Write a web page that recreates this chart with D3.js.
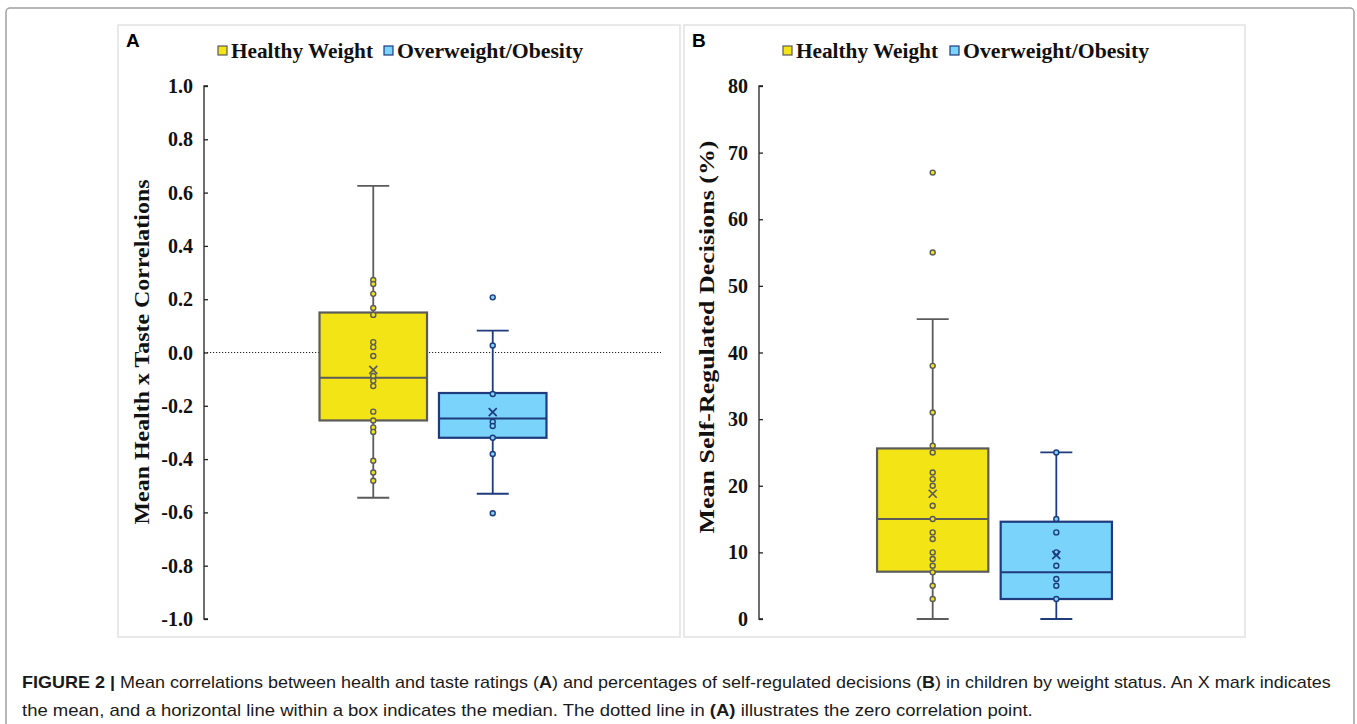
<!DOCTYPE html>
<html>
<head>
<meta charset="utf-8">
<script src="https://cdn.jsdelivr.net/npm/d3@7"></script>
<style>
  body { margin: 0; background: #fff; }
  svg { display: block; }
</style>
</head>
<body>
<div id="chart"></div>
<script>
// groups and colours
const groups = ['Healthy Weight', 'Overweight/Obesity']
const fills = ['#f3e415', '#79d3fb']
const strokes = ['#5b5b5b', '#1f3b7c']

// panel A: mean health x taste correlations
const ticksA = [-1.0, -0.8, -0.6, -0.4, -0.2, 0.0, 0.2, 0.4, 0.6, 0.8, 1.0]
const boxA = [
  { lo: -0.545, q1: -0.255, median: -0.095, q3: 0.15, hi: 0.625, mean: -0.065 },
  { lo: -0.53, q1: -0.32, median: -0.248, q3: -0.152, hi: 0.082, mean: -0.224 }
]
const pointsAHealthy = [0.272, 0.257, 0.22, 0.167, 0.141, 0.039, 0.02, -0.013, -0.088, -0.106,
  -0.126, -0.222, -0.255, -0.281, -0.298, -0.406, -0.45, -0.481]
const pointsAOver = [0.207, 0.026, -0.156, -0.26, -0.276, -0.32, -0.381, -0.603]

// panel B: mean self-regulated decisions (%)
const ticksB = [0, 10, 20, 30, 40, 50, 60, 70, 80]
const boxB = [
  { lo: 0, q1: 7.1, median: 15, q3: 25.6, hi: 45, mean: 18.8 },
  { lo: 0, q1: 3, median: 7, q3: 14.6, hi: 25, mean: 9.6 }
]
const pointsBHealthy = [67, 55, 38, 31, 26, 25, 22, 21, 20, 17, 15, 13, 12, 10, 9, 8, 7, 5, 3]
const pointsBOver = [25, 15, 13, 10, 8, 6, 5, 3]

const width = 1357
const height = 724

const svg = d3.select('#chart')
  .append('svg')
  .attr('width', width)
  .attr('height', height)

// outer figure frame
svg.append('rect')
  .attr('x', 6).attr('y', 8)
  .attr('width', 1348).attr('height', 740)
  .attr('rx', 4)
  .attr('fill', 'none')
  .attr('stroke', '#a0a0a0')
  .attr('stroke-width', 1.5)

const serif = '"Liberation Serif", "Times New Roman", serif'

function fitText(sel, target) {
  const w = sel.node().getComputedTextLength()
  sel.attr('textLength', target).attr('lengthAdjust', 'spacingAndGlyphs')
  return w
}

function drawPanel(cfg) {
  const g = svg.append('g')

  // panel border
  g.append('rect')
    .attr('x', cfg.frame[0]).attr('y', cfg.frame[1])
    .attr('width', cfg.frame[2] - cfg.frame[0])
    .attr('height', cfg.frame[3] - cfg.frame[1])
    .attr('fill', 'none')
    .attr('stroke', '#e2e2e2')
    .attr('stroke-width', 1.5)

  // panel letter
  g.append('text')
    .attr('x', cfg.frame[0] + 8)
    .attr('y', cfg.frame[1] + 22)
    .attr('font-family', 'Liberation Sans, Arial, sans-serif')
    .attr('font-weight', 'bold')
    .attr('font-size', 19)
    .text(cfg.letter)

  const y = d3.scaleLinear().domain(cfg.domain).range([619, 86])
  const x = d3.scaleBand()
    .domain(groups)
    .range([cfg.axisX, cfg.plotRight])
    .paddingInner(0.1)
    .paddingOuter(cfg.outer)

  // y axis (ticks pointing inward)
  const axis = d3.axisRight(y)
    .tickValues(cfg.ticks)
    .tickSize(4)
    .tickFormat('')
  const ax = g.append('g')
    .attr('transform', `translate(${cfg.axisX},0)`)
    .call(axis)
  ax.select('.domain').attr('stroke', '#222').attr('stroke-width', 1.3)
    .attr('d', `M4,${y(cfg.domain[0])}H0V${y(cfg.domain[1])}H4`)
  ax.selectAll('.tick line').attr('stroke', '#222').attr('stroke-width', 1.3)

  g.selectAll('.ylab')
    .data(cfg.ticks)
    .join('text')
    .attr('class', 'ylab')
    .attr('x', cfg.axisX - 11)
    .attr('y', d => y(d))
    .attr('dy', '0.35em')
    .attr('text-anchor', 'end')
    .attr('font-family', serif)
    .attr('font-weight', 'bold')
    .attr('font-size', 20)
    .attr('fill', '#111')
    .text(cfg.fmt)

  // y axis title
  const title = g.append('text')
    .attr('transform', `translate(${cfg.titleX},${cfg.titleY}) rotate(-90)`)
    .attr('text-anchor', 'middle')
    .attr('dy', '0.35em')
    .attr('font-family', serif)
    .attr('font-weight', 'bold')
    .attr('font-size', 22)
    .attr('fill', '#111')
    .text(cfg.title)
  fitText(title, cfg.titleLen)

  // legend
  const leg = g.append('g')
  cfg.legend.forEach((l, i) => {
    leg.append('rect')
      .attr('x', l.sq).attr('y', 46)
      .attr('width', 9).attr('height', 9)
      .attr('fill', fills[i])
      .attr('stroke', strokes[i])
      .attr('stroke-width', 1.2)
    const t = leg.append('text')
      .attr('x', l.sq + 13).attr('y', 58)
      .attr('font-family', serif)
      .attr('font-weight', 'bold')
      .attr('font-size', 21)
      .attr('fill', '#111')
      .text(groups[i])
    fitText(t, l.len)
  })

  // zero reference line
  if (cfg.zeroLine) {
    g.append('line')
      .attr('x1', cfg.axisX).attr('x2', cfg.plotRight - 1)
      .attr('y1', y(0)).attr('y2', y(0))
      .attr('stroke', '#222')
      .attr('stroke-width', 1)
      .attr('stroke-dasharray', '1.2,1.8')
  }

  // boxes
  cfg.boxes.forEach((b, i) => {
    const grp = groups[i]
    const x0 = x(grp)
    const bw = x.bandwidth()
    const cx = x0 + bw / 2
    const capW = 16
    const bg = g.append('g')
      .attr('stroke', strokes[i])
      .attr('stroke-width', 1.8)

    bg.append('line')
      .attr('x1', cx).attr('x2', cx)
      .attr('y1', y(b.hi)).attr('y2', y(b.q3))
    bg.append('line')
      .attr('x1', cx).attr('x2', cx)
      .attr('y1', y(b.q1)).attr('y2', y(b.lo))
    bg.selectAll('.cap')
      .data([b.hi, b.lo])
      .join('line')
      .attr('x1', cx - capW).attr('x2', cx + capW)
      .attr('y1', d => y(d)).attr('y2', d => y(d))

    bg.append('rect')
      .attr('x', x0).attr('y', y(b.q3))
      .attr('width', bw)
      .attr('height', y(b.q1) - y(b.q3))
      .attr('fill', fills[i])
      .attr('stroke-width', 2.2)
    bg.append('line')
      .attr('x1', x0).attr('x2', x0 + bw)
      .attr('y1', y(b.median)).attr('y2', y(b.median))
      .attr('stroke-width', 2)

    // data points
    bg.selectAll('.pt')
      .data(cfg.points[i])
      .join('circle')
      .attr('class', 'pt')
      .attr('cx', cx)
      .attr('cy', d => y(d))
      .attr('r', 2.5)
      .attr('fill', fills[i])
      .attr('stroke-width', 1.4)

    // mean marker
    const m = y(b.mean)
    const s = 4
    bg.append('path')
      .attr('d', `M${cx - s},${m - s}L${cx + s},${m + s}M${cx + s},${m - s}L${cx - s},${m + s}`)
      .attr('fill', 'none')
      .attr('stroke-width', 1.7)
  })
}

drawPanel({
  letter: 'A',
  frame: [118, 25, 680, 637],
  domain: [-1, 1],
  ticks: ticksA,
  fmt: d => d.toFixed(1),
  axisX: 204,
  plotRight: 662,
  outer: 0.967,
  title: 'Mean Health x Taste Correlations',
  titleX: 141,
  titleY: 352,
  titleLen: 345,
  legend: [{ sq: 218, len: 142 }, { sq: 384, len: 186 }],
  zeroLine: true,
  boxes: boxA,
  points: [pointsAHealthy, pointsAOver]
})

drawPanel({
  letter: 'B',
  frame: [684, 25, 1245, 637],
  domain: [0, 80],
  ticks: ticksB,
  fmt: d => String(d),
  axisX: 759,
  plotRight: 1230,
  outer: 0.955,
  title: 'Mean Self-Regulated Decisions (%)',
  titleX: 706,
  titleY: 337,
  titleLen: 393,
  legend: [{ sq: 783, len: 142 }, { sq: 950, len: 186 }],
  zeroLine: false,
  boxes: boxB,
  points: [pointsBHealthy, pointsBOver]
})

// caption
const caption = [
  [['FIGURE 2 | ', true], ['Mean correlations between health and taste ratings (', false], ['A', true],
   [') and percentages of self-regulated decisions (', false], ['B', true],
   [') in children by weight status. An X mark indicates', false]],
  [['the mean, and a horizontal line within a box indicates the median. The dotted line in ', false],
   ['(A)', true], [' illustrates the zero correlation point.', false]]
]
const capTargets = [1309, 1011]
const capY = [688, 716]

caption.forEach((line, i) => {
  const t = svg.append('text')
    .attr('x', 0).attr('y', 0)
    .attr('font-family', '"Liberation Sans", Arial, sans-serif')
    .attr('font-size', 17)
    .attr('fill', '#1a1a1a')
  t.selectAll('tspan')
    .data(line)
    .join('tspan')
    .attr('font-weight', d => d[1] ? 'bold' : 'normal')
    .text(d => d[0])
  const w = t.node().getComputedTextLength()
  t.attr('transform', `translate(22,${capY[i]}) scale(${capTargets[i] / w},1)`)
})
</script>
</body>
</html>
